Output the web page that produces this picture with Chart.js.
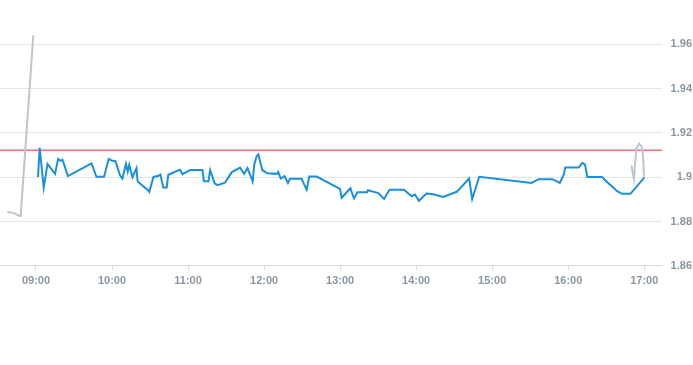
<!DOCTYPE html>
<html>
<head>
<meta charset="utf-8">
<script src="https://cdn.jsdelivr.net/npm/chart.js@4/dist/chart.umd.min.js"></script>
<style>
html,body{margin:0;padding:0;background:#fff;}
#wrap{width:693px;height:365px;position:relative;}
</style>
</head>
<body>
<div id="wrap"><canvas id="c"></canvas></div>
<script>
// minutes since midnight
const mainTimes = [541.6,542.9,546.1,549.1,555.0,557.5,559.5,560.9,565.2,583.8,587.7,593.7,597.4,600.4,602.7,606.3,608.2,611.0,612.4,613.6,616.1,619.3,620.2,628.8,629.4,632.7,636.3,638.2,640.4,643.1,644.4,653.6,655.6,661.5,671.4,672.5,676.1,677.4,681.0,683.2,689.1,694.6,701.0,704.3,706.9,711.0,712.2,714.1,715.4,718.6,722.4,730.1,731.2,733.1,736.1,738.8,740.4,749.6,753.6,755.6,761.5,779.9,781.2,788.1,790.9,793.7,801.2,801.9,810.1,814.7,819.0,830.4,836.4,839.0,842.2,848.1,853.5,861.4,872.0,881.8,884.2,889.8,931.1,936.7,947.5,953.4,956.6,957.6,968.3,971.2,973.2,975.1,986.6,991.5,995.0,998.6,1002.5,1009.1,1020.0];
const mainValues = [1.9001,1.9134,1.8953,1.9060,1.9015,1.9082,1.9074,1.9079,1.9005,1.9062,1.9002,1.9002,1.9082,1.9074,1.9072,1.9008,1.8993,1.9060,1.9025,1.9056,1.9000,1.9041,1.8980,1.8939,1.8934,1.9001,1.9005,1.9012,1.8953,1.8953,1.9011,1.9034,1.9014,1.9032,1.9032,1.8982,1.8982,1.9032,1.8972,1.8964,1.8975,1.9023,1.9043,1.9015,1.9041,1.8981,1.9055,1.9095,1.9103,1.9032,1.9018,1.9015,1.9024,1.8994,1.9005,1.8974,1.8993,1.8993,1.8943,1.9003,1.9003,1.8947,1.8907,1.8950,1.8904,1.8932,1.8932,1.8941,1.8928,1.8902,1.8943,1.8943,1.8914,1.8922,1.8893,1.8926,1.8923,1.8911,1.8934,1.8994,1.8901,1.9002,1.8974,1.8991,1.8991,1.8974,1.9014,1.9044,1.9044,1.9065,1.9057,1.9001,1.9001,1.8974,1.8957,1.8937,1.8925,1.8925,1.8998];
const preTimes = [517.4,520.8,527.9,537.9];
const preValues = [1.8843,1.8841,1.8824,1.9641];
const postTimes = [1009.9,1011.8,1013.8,1016.0,1018.0,1019.0,1019.8];
const postValues = [1.9054,1.8992,1.9129,1.9152,1.9138,1.9099,1.9001];
const referenceValue = 1.9122;
const xTickMinutes = [540,600,660,720,780,840,900,960,1020];
const yTickValues = [1.86,1.88,1.90,1.92,1.94,1.96];

const toPts = (t, v) => t.map((x, i) => ({x: x, y: v[i]}));
const fmtTime = m => String(Math.floor(m/60)).padStart(2,'0') + ':' + String(Math.round(m%60)).padStart(2,'0');
const xMin = 511.6, xMax = 1034.0;

new Chart(document.getElementById('c'), {
  type: 'line',
  data: {
    datasets: [
      {data: toPts(mainTimes, mainValues), borderColor: '#1a8fe0', borderWidth: 2, pointRadius: 0, tension: 0, fill: false},
      {data: toPts(preTimes, preValues), borderColor: '#bcc6ce', borderWidth: 2, pointRadius: 0, tension: 0, fill: false},
      {data: toPts(postTimes, postValues), borderColor: '#bcc6ce', borderWidth: 2, pointRadius: 0, tension: 0, fill: false},
      {data: [{x: xMin, y: referenceValue}, {x: xMax, y: referenceValue}], borderColor: '#d3382f', borderWidth: 1, pointRadius: 0, fill: false}
    ]
  },
  options: {
    responsive: true,
    maintainAspectRatio: false,
    animation: false,
    layout: {padding: {top: 0, bottom: 73, left: 0, right: 1}},
    plugins: {legend: {display: false}, tooltip: {enabled: false}},
    scales: {
      x: {
        type: 'linear', min: xMin, max: xMax,
        afterBuildTicks: s => { s.ticks = xTickMinutes.map(v => ({value: v})); },
        grid: {drawOnChartArea: false, drawTicks: true, tickLength: 5, color: '#d8dde2'},
        border: {display: true, color: '#d8dde2'},
        ticks: {callback: v => fmtTime(v), color: '#8a97a3', font: {family: 'Liberation Sans, Arial', size: 11, weight: 'bold'}, padding: 4, maxRotation: 0, autoSkip: false}
      },
      y: {
        position: 'right', min: 1.86, max: 1.9761,
        afterBuildTicks: s => { s.ticks = yTickValues.map(v => ({value: v})); },
        afterFit: s => { s.width = 30; },
        grid: {color: '#e3e6e9', drawTicks: false},
        border: {display: false},
        ticks: {callback: v => String(Math.round(v*100)/100), color: '#8a97a3', font: {family: 'Liberation Sans, Arial', size: 11, weight: 'bold'}, padding: 2, crossAlign: 'far'}
      }
    }
  }
});
</script>
</body>
</html>
